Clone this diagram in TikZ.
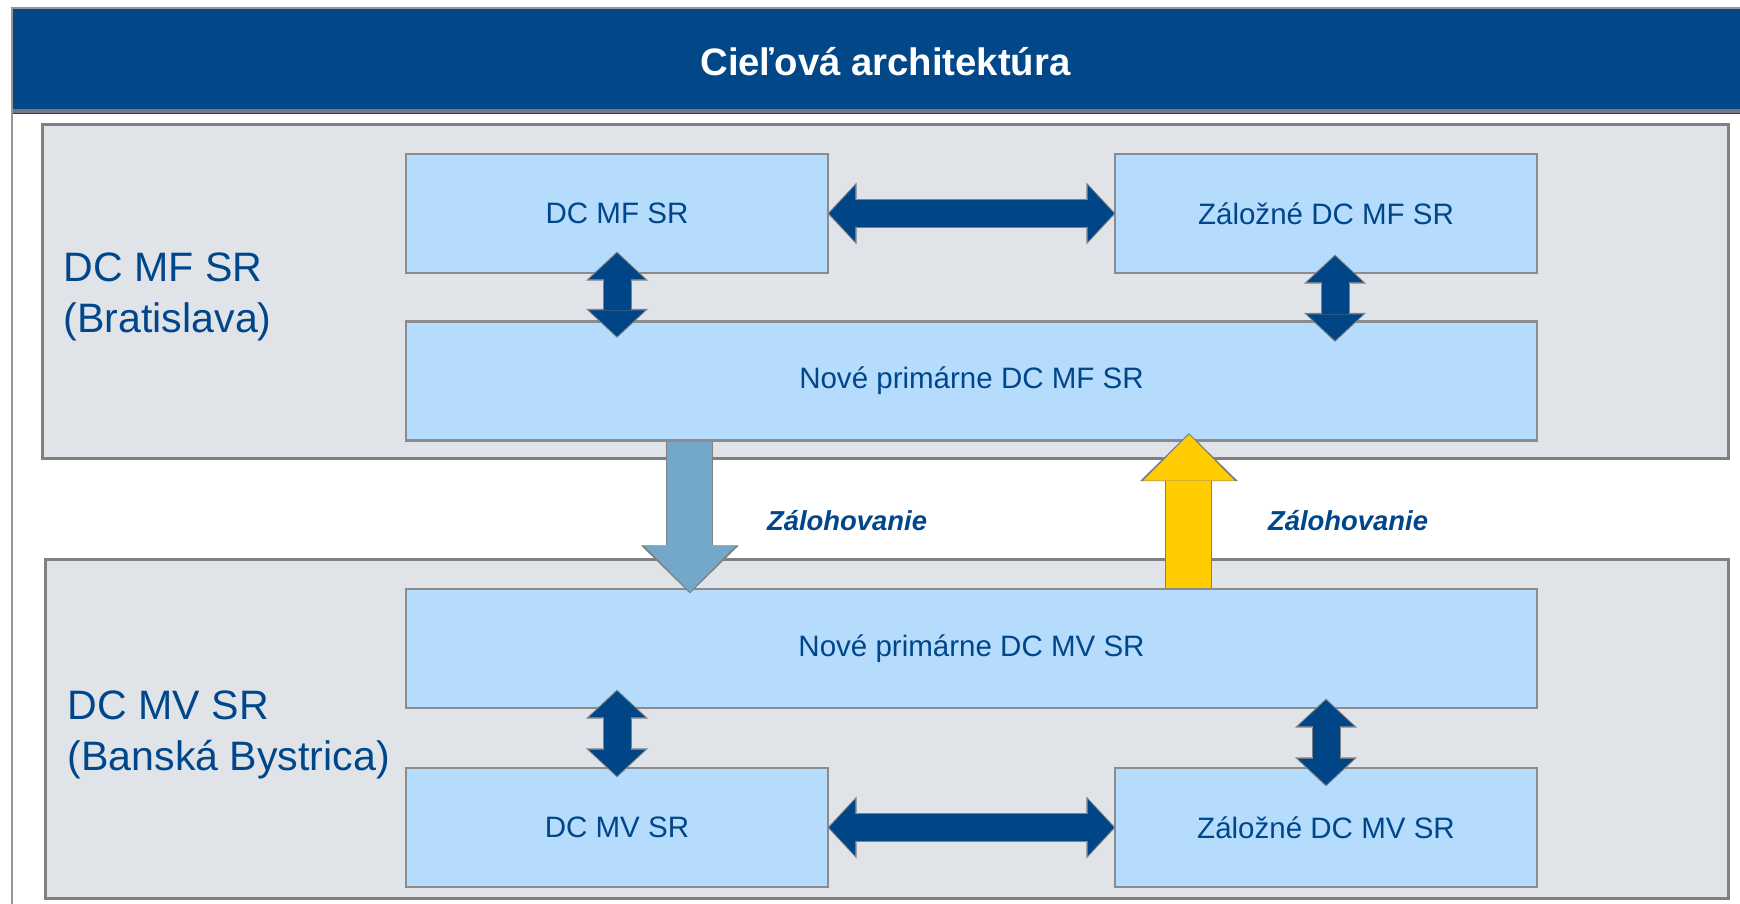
\documentclass[tikz,border=0pt]{standalone}
\usepackage{fontspec}
\setmainfont{Liberation Sans}
\usetikzlibrary{arrows.meta}

\definecolor{titleblue}{RGB}{2,71,135}
\definecolor{textblue}{RGB}{0,70,138}
\definecolor{linkblue}{RGB}{0,70,135}
\definecolor{boxblue}{RGB}{181,220,252}
\definecolor{boxgray}{RGB}{140,140,140}
\definecolor{sitefill}{RGB}{224,228,232}
\definecolor{sitegray}{RGB}{128,128,128}
\definecolor{framegray}{RGB}{150,150,150}
\definecolor{stripegray}{RGB}{112,122,134}
\definecolor{arrowgray}{RGB}{125,128,132}
\definecolor{backupblue}{RGB}{116,168,200}
\definecolor{backupyellow}{RGB}{255,204,0}

\begin{document}
\begin{tikzpicture}[x=0.1mm,y=-0.1mm]
			\tikzset{dcbox/.style = {shape=rectangle, draw=boxgray, line width=0.22mm,
					fill=boxblue, text=textblue, inner sep=0pt,
					minimum width=42.2mm, minimum height=11.9mm,
					font=\fontsize{8.4}{10}\selectfont}}
			\tikzset{widebox/.style = {dcbox, minimum width=113.1mm}}
			\tikzset{site/.style = {shape=rectangle, draw=sitegray, line width=0.3mm,
					fill=sitefill, inner sep=0pt}}
			\tikzset{sitelabel/.style = {anchor=north west, align=left, inner sep=0pt,
					text=textblue, font=\fontsize{11.7}{14.5}\selectfont}}
			\tikzset{heading/.style = {shape=rectangle, fill=titleblue, text=white,
					inner sep=0pt, minimum width=174.5mm, minimum height=10.5mm,
					font=\bfseries\fontsize{10.9}{13}\selectfont}}
			\tikzset{backuplabel/.style = {text=textblue, inner sep=0pt,
					font=\bfseries\itshape\fontsize{7.8}{9}\selectfont}}
			\tikzset{edge/.style = {<->, > = {Triangle[width=5.6mm,length=2.6mm,line width=0pt]},
					line width=2.7mm, draw=linkblue,
					preaction={draw=arrowgray, <->, > = {Triangle[width=6.2mm,length=2.9mm,line width=0pt]},
						line width=2.9mm, shorten <=-0.15mm, shorten >=-0.15mm}}}
			\tikzset{backup/.style = {->, > = {Triangle[width=9.1mm,length=4.6mm,line width=0pt]},
					line width=4.5mm,
					preaction={draw=arrowgray, ->, > = {Triangle[width=9.8mm,length=4.8mm,line width=0pt]},
						line width=4.7mm, shorten >=-0.15mm}}}

			\useasboundingbox (0,0) rectangle (1740,904);
			\fill[white] (0,0) rectangle (1740,904);

			% heading
			\node[heading] (title) at (885.5,61.5) {Cieľová architektúra};
			\fill[stripegray] (13,109) rectangle (1740,113);
			\draw[framegray, line width=0.25mm] (1740,8) -- (12,8) -- (12,904);

			% sites
			\node[site, minimum width=168.6mm, minimum height=33.4mm] (mf) at (885,292) {};
			\node[site, minimum width=168.3mm, minimum height=33.9mm] (mv) at (886.5,729.5) {};
			\node[sitelabel] (mflabel) at (63,252) {DC MF SR\\(Bratislava)};
			\node[sitelabel] (mvlabel) at (67,690) {DC MV SR\\(Banská Bystrica)};

			% data centres
			\node[dcbox] (dcmf) at (617,213.5) {DC MF SR};
			\node[dcbox] (zalmf) at (1326,213.5) {Záložné DC MF SR};
			\node[widebox] (novemf) at (971.5,381) {Nové primárne DC MF SR};
			\node[widebox] (novemv) at (971.5,648.5) {Nové primárne DC MV SR};
			\node[dcbox] (dcmv) at (617,827.5) {DC MV SR};
			\node[dcbox] (zalmv) at (1326,827.5) {Záložné DC MV SR};

			%edges
			\draw[edge] (dcmf) -- (zalmf);
			\draw[edge] (dcmv) -- (zalmv);
			\draw[edge] ([yshift=2.1mm]dcmf.south) -- ([yshift=-1.6mm]dcmf.south |- novemf.north);
			\draw[edge] ([xshift=0.9mm,yshift=1.8mm]zalmf.south) -- ([xshift=0.9mm,yshift=-2mm]zalmf.south |- novemf.north);
			\draw[edge] ([yshift=1.8mm]dcmv.north |- novemv.south) -- ([yshift=-0.9mm]dcmv.north);
			\draw[edge] ([yshift=0.9mm]zalmv.north |- novemv.south) -- ([yshift=-1.8mm]zalmv.north);

			% backup
			\draw[backup, draw=backupblue] ([xshift=28.5mm]novemf.south west) -- ([xshift=28.5mm,yshift=-0.4mm]novemv.north west);
			\draw[backup, draw=backupyellow] ([xshift=78.4mm]novemv.north west) -- ([xshift=78.4mm,yshift=0.7mm]novemf.south west);
			\node[backuplabel] (bk1) at (847,521) {Zálohovanie};
			\node[backuplabel] (bk2) at (1348,521) {Zálohovanie};
\end{tikzpicture}
\end{document}
